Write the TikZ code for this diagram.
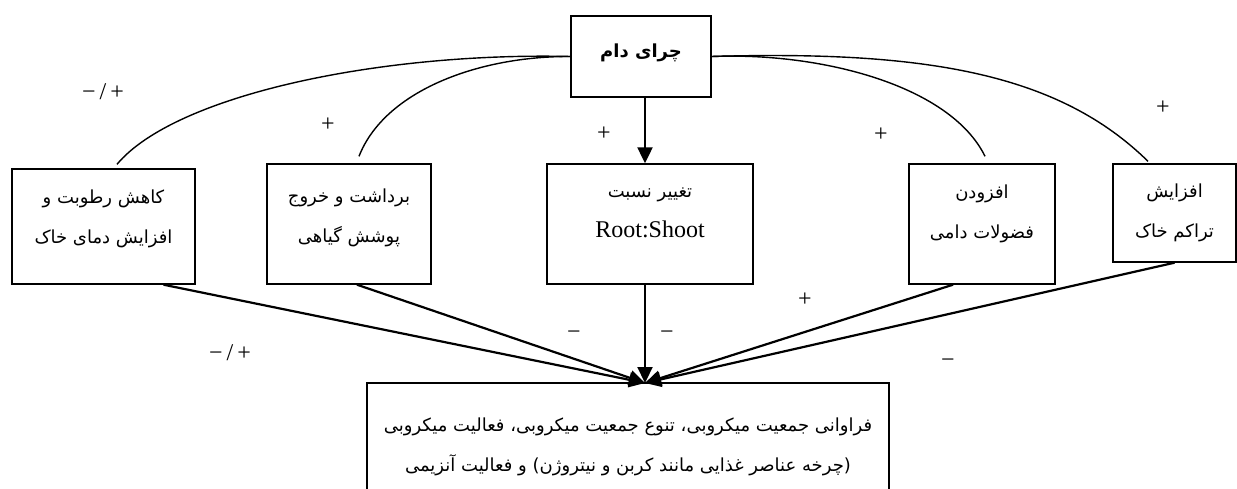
\documentclass[tikz,border=0pt]{standalone}
\usepackage{fontspec}
\setmainfont{Liberation Serif}
\newfontfamily\fa[Script=Arabic]{DejaVu Sans}
\TeXXeTstate=1
\usetikzlibrary{arrows.meta,positioning}
\tikzset{>={Triangle[length=16pt,width=15pt]},
	box/.style={draw,line width=1.4pt,inner sep=0pt},
	txt/.style={align=center,font=\fa\fontsize{18}{40}\selectfont},
	sgn/.style={font=\fontsize{24}{26}\selectfont},
	link/.style={line width=1.4pt},
	feed/.style={->,line width=2.2pt}}
\begin{document}
\begin{tikzpicture}[x=1pt,y=-1pt]
	\useasboundingbox (0,0) rectangle (1237,488);
	% boxes
	\node[box,minimum width=140pt,minimum height=81pt,
		label={[txt,font=\fa\bfseries\fontsize{18}{20}\selectfont,yshift=4pt]center:{\beginR چرای دام\endR}}] (graz) at (641,56.5) {};
	\node[box,minimum width=183pt,minimum height=115pt,
		label={[txt,yshift=8pt]center:{\beginR کاهش رطوبت و\endR\\\beginR افزایش دمای خاک\endR}}] (b1) at (103.5,226.5) {};
	\node[box,minimum width=164pt,minimum height=120pt,
		label={[txt,yshift=6pt]center:{\beginR برداشت و خروج\endR\\\beginR پوشش گیاهی\endR}}] (b2) at (349,224) {};
	\node[box,minimum width=206pt,minimum height=120pt,
		label={[txt,yshift=11pt]center:{\beginR تغییر نسبت\endR\\{\rmfamily\fontsize{24}{40}\selectfont Root:Shoot}}}] (b3) at (650,224) {};
	\node[box,minimum width=146pt,minimum height=120pt,
		label={[txt,yshift=10pt]center:{\beginR افزودن\endR\\\beginR فضولات دامی\endR}}] (b4) at (982,224) {};
	\node[box,minimum width=123pt,minimum height=98pt,
		label={[txt]center:{\beginR افزایش\endR\\\beginR تراکم خاک\endR}}] (b5) at (1174.5,213) {};
	\node[box,minimum width=522pt,minimum height=117pt,
		label={[txt,yshift=-5pt]center:{\beginR فراوانی جمعیت میکروبی، تنوع جمعیت میکروبی، فعالیت میکروبی\endR\\\beginR (چرخه عناصر غذایی مانند کربن و نیتروژن) و فعالیت آنزیمی\endR}}] (soil) at (628,441.5) {};
	% ends of the curves and meeting point
	\coordinate (c1) at ([xshift=13.5pt,yshift=4pt]b1.north);
	\coordinate (c2) at ([xshift=10pt,yshift=7pt]b2.north);
	\coordinate (c4) at ([xshift=3pt,yshift=7pt]b4.north);
	\coordinate (c5) at ([xshift=-26.5pt,yshift=2pt]b5.north);
	\coordinate (hub) at (645,383);
	% curves
	\draw[link] (graz.west) .. controls (380,52) and (175,95) .. (c1);
	\draw[link] (graz.west) .. controls (480,56) and (385,90) .. (c2);
	\draw[link] (graz.east) .. controls (820,52) and (950,85) .. (c4);
	\draw[link] (graz.east) .. controls (930,50) and (1060,75) .. (c5);
	% arrows
	\draw[feed] (graz.south -| hub) -- (b3.north -| hub);
	\draw[feed] ([xshift=60pt]b1.south) -- (hub);
	\draw[feed] ([xshift=8pt]b2.south) -- (hub);
	\draw[feed] (b3.south -| hub) -- (hub);
	\draw[feed] ([xshift=-29pt]b4.south) -- (hub);
	\draw[feed] (b5.south) -- (hub);
	% signs
	\node[sgn] (s1) at (103,92) {−\,/\,+};
	\node[sgn] (s2) at (328,125) {+};
	\node[sgn] (s3) at (604,134) {+};
	\node[sgn] (s4) at (881,135) {+};
	\node[sgn] (s5) at (1163,108) {+};
	\node[sgn] (s6) at (230,353) {−\,/\,+};
	\node[sgn] (s7) at (574,335) {−};
	\node[sgn] (s8) at (667,335) {−};
	\node[sgn] (s9) at (805,300) {+};
	\node[sgn] (s10) at (948,363) {−};
\end{tikzpicture}
\end{document}
